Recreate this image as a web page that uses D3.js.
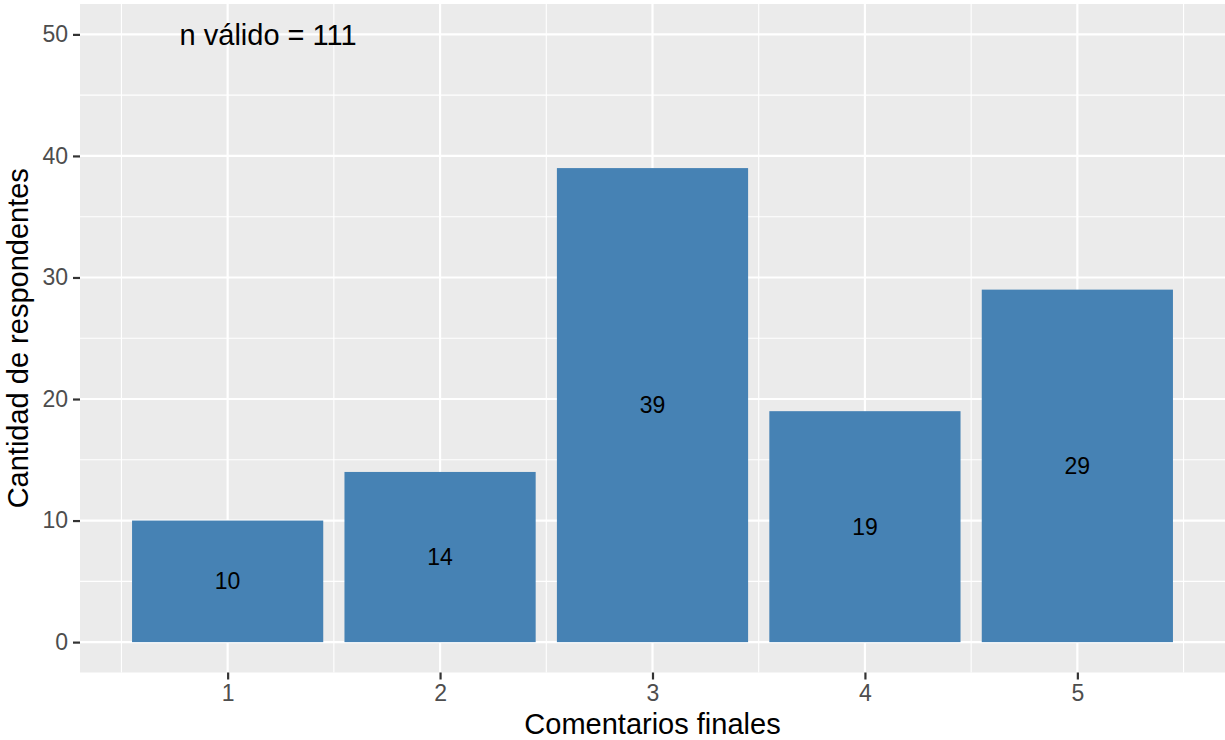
<!DOCTYPE html>
<html><head><meta charset="utf-8">
<script src="https://cdn.jsdelivr.net/npm/d3@7"></script>
<style>body{margin:0;background:#fff}svg{display:block;font-family:"Liberation Sans",Arial,sans-serif}</style>
</head><body><svg id="c" width="1225" height="740"></svg>
<script>
const categories = [1, 2, 3, 4, 5];
const counts = [10, 14, 39, 19, 29];
const yTicks = [0, 10, 20, 30, 40, 50];
const yMinor = [5, 15, 25, 35, 45];
const xMinor = [0.5, 1.5, 2.5, 3.5, 4.5, 5.5];
const annotation = "n válido = 111";
const xTitle = "Comentarios finales";
const yTitle = "Cantidad de respondentes";

const svg = d3.select("#c");
const L = 80, R = 1225, T = 4, B = 672.5;
const x = d3.scaleLinear().domain([0.305, 5.695]).range([L, R]);
const y = d3.scaleLinear().domain([-2.5, 52.5]).range([B, T]);

svg.append("rect").attr("x", L).attr("y", T).attr("width", R - L).attr("height", B - T).attr("fill", "#ebebeb");
const g = svg.append("g");
g.selectAll(".ym").data(yMinor).join("line").attr("x1", L).attr("x2", R).attr("y1", d => y(d)).attr("y2", d => y(d)).attr("stroke", "#fff").attr("stroke-width", 1.1);
g.selectAll(".xm").data(xMinor).join("line").attr("y1", T).attr("y2", B).attr("x1", d => x(d)).attr("x2", d => x(d)).attr("stroke", "#fff").attr("stroke-width", 1.1);
g.selectAll(".yM").data(yTicks).join("line").attr("x1", L).attr("x2", R).attr("y1", d => y(d)).attr("y2", d => y(d)).attr("stroke", "#fff").attr("stroke-width", 2.2);
g.selectAll(".xM").data(categories).join("line").attr("y1", T).attr("y2", B).attr("x1", d => x(d)).attr("x2", d => x(d)).attr("stroke", "#fff").attr("stroke-width", 2.2);

svg.selectAll(".bar").data(categories).join("rect")
  .attr("x", d => x(d - 0.45)).attr("width", d => x(d + 0.45) - x(d - 0.45))
  .attr("y", (d, i) => y(counts[i])).attr("height", (d, i) => y(0) - y(counts[i]))
  .attr("fill", "#4682b4");

svg.selectAll(".lbl").data(categories).join("text")
  .attr("x", d => x(d)).attr("y", (d, i) => y(counts[i] / 2)).attr("dy", "0.35em")
  .attr("text-anchor", "middle").attr("font-size", 23).attr("fill", "#000")
  .text((d, i) => counts[i]);

svg.append("text").attr("x", x(1.2) - 2).attr("y", y(50)).attr("dy", "0.35em")
  .attr("text-anchor", "middle").attr("font-size", 29).attr("fill", "#000").text(annotation);

// axes
const ya = svg.append("g").attr("transform", `translate(${L},0)`)
  .call(d3.axisLeft(y).tickValues(yTicks).tickFormat(d3.format("d")).tickSize(7).tickPadding(5));
const xa = svg.append("g").attr("transform", `translate(0,${B})`)
  .call(d3.axisBottom(x).tickValues(categories).tickFormat(d3.format("d")).tickSize(7).tickPadding(4));
[ya, xa].forEach(a => {
  a.select(".domain").remove();
  a.selectAll(".tick line").attr("stroke", "#333").attr("stroke-width", 2.2);
  a.selectAll(".tick text").attr("fill", "#4d4d4d").attr("font-size", 23).attr("font-family", "Liberation Sans, Arial, sans-serif");
});
xa.selectAll(".tick text").attr("dy", "0.75em");

svg.append("text").attr("x", (L + R) / 2).attr("y", 734).attr("text-anchor", "middle")
  .attr("font-size", 29).attr("fill", "#000").text(xTitle);
svg.append("text").attr("transform", `translate(28,${(T + B) / 2}) rotate(-90)`).attr("text-anchor", "middle")
  .attr("font-size", 29).attr("fill", "#000").text(yTitle);
</script></body></html>
